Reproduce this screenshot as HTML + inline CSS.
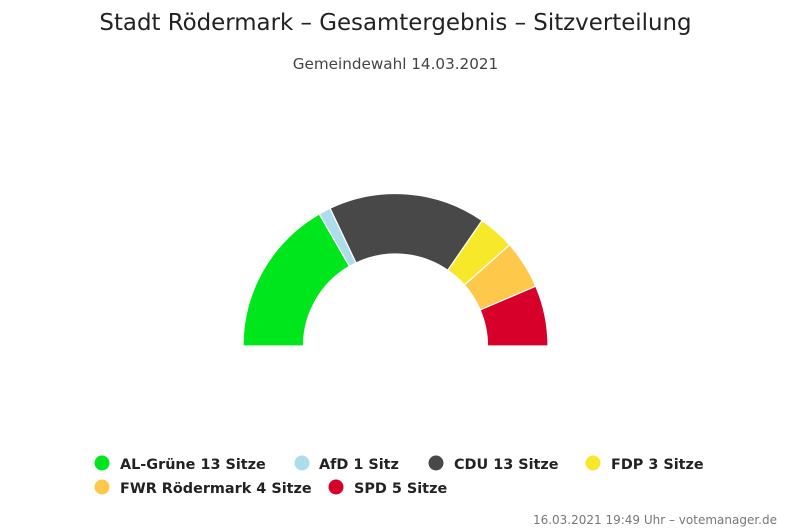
<!DOCTYPE html>
<html><head><meta charset="utf-8"><style>
body{margin:0;background:#fff;}
svg text{font-family:"DejaVu Sans","Liberation Sans",sans-serif;}
</style></head><body>
<svg width="791" height="527" viewBox="0 0 791 527" xmlns="http://www.w3.org/2000/svg">
<rect width="791" height="527" fill="#fff"/>
<text x="395.5" y="30" text-anchor="middle" font-size="22.9" fill="#222">Stadt Rödermark – Gesamtergebnis – Sitzverteilung</text>
<text x="395.5" y="69" text-anchor="middle" font-size="15.2" fill="#444">Gemeindewahl 14.03.2021</text>
<g stroke="#fff" stroke-width="1.2">
<path d="M243,346 A152.5,152.5 0 0 1 319.25,213.93 L349.5,266.33 A92,92 0 0 0 303.5,346 Z" fill="#00e61d"/>
<path d="M319.25,213.93 A152.5,152.5 0 0 1 330.12,208.23 L356.06,262.89 A92,92 0 0 0 349.5,266.33 Z" fill="#addcea"/>
<path d="M330.12,208.23 A152.5,152.5 0 0 1 482.14,220.49 L447.77,270.28 A92,92 0 0 0 356.06,262.89 Z" fill="#484848"/>
<path d="M482.14,220.49 A152.5,152.5 0 0 1 509.65,244.88 L464.36,285.0 A92,92 0 0 0 447.77,270.28 Z" fill="#f8e82a"/>
<path d="M509.65,244.88 A152.5,152.5 0 0 1 535.8,286.23 L480.14,309.95 A92,92 0 0 0 464.36,285.0 Z" fill="#fec94a"/>
<path d="M535.8,286.23 A152.5,152.5 0 0 1 548,346 L487.5,346 A92,92 0 0 0 480.14,309.95 Z" fill="#d7002a"/>
</g>
<g font-size="14.4" font-weight="bold" fill="#222">
<circle cx="102" cy="463" r="7.5" fill="#00e61d"/><text x="120" y="469">AL-Grüne 13 Sitze</text>
<circle cx="302" cy="463" r="7.5" fill="#addcea"/><text x="319" y="469">AfD 1 Sitz</text>
<circle cx="436" cy="463" r="7.5" fill="#484848"/><text x="454" y="469">CDU 13 Sitze</text>
<circle cx="593" cy="463" r="7.5" fill="#f8e82a"/><text x="611" y="469">FDP 3 Sitze</text>
<circle cx="102" cy="487" r="7.5" fill="#fec94a"/><text x="120" y="493">FWR Rödermark 4 Sitze</text>
<circle cx="336" cy="487" r="7.5" fill="#d7002a"/><text x="354" y="493">SPD 5 Sitze</text>
</g>
<text x="777" y="524" text-anchor="end" font-size="12" fill="#777">16.03.2021 19:49 Uhr – votemanager.de</text>
</svg>
</body></html>
